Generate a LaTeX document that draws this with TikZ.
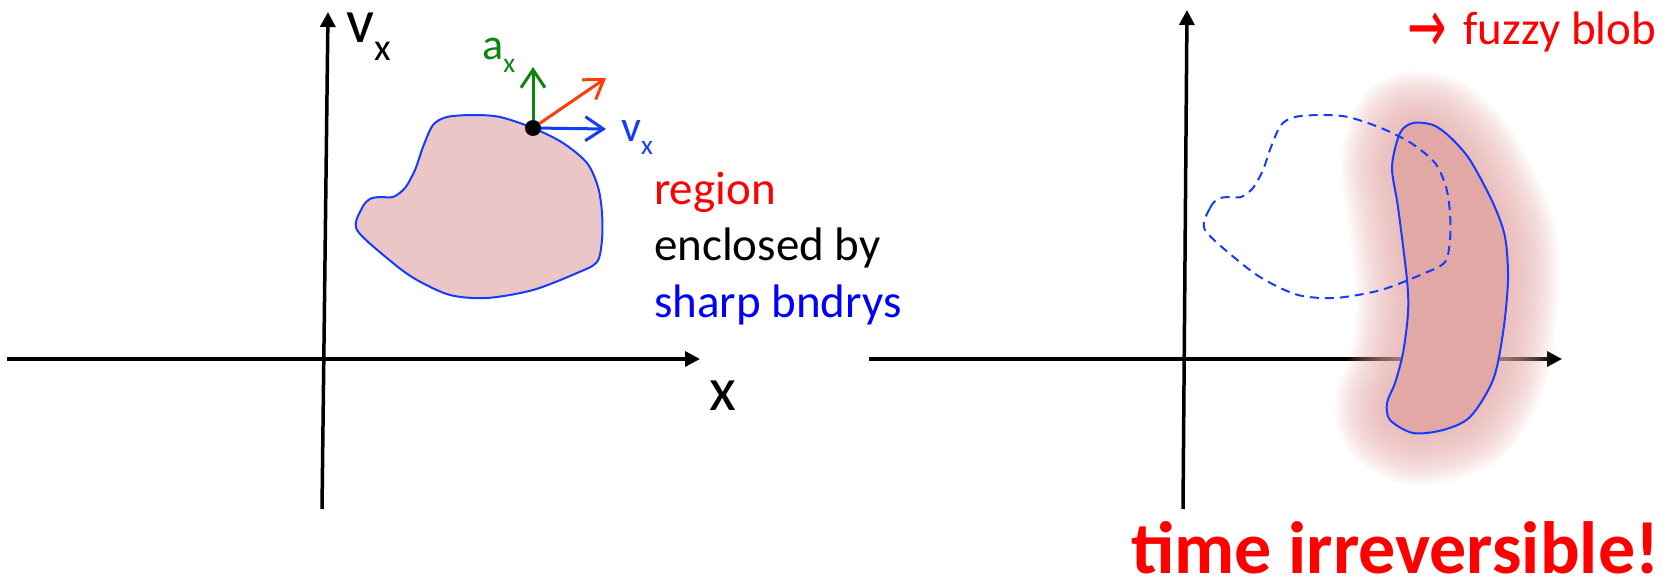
\documentclass[tikz,border=0pt]{standalone}
\usepackage{fontspec}
\setmainfont{Carlito}
\newfontfamily\arrowfont{DejaVu Sans}
\usetikzlibrary{arrows.meta,positioning}

\definecolor{blobfill}{RGB}{234,198,198}
\definecolor{fuzzcol}{RGB}{226,168,166}
\definecolor{rimblue}{RGB}{20,60,255}
\definecolor{vecred}{RGB}{255,60,10}
\definecolor{vecgreen}{RGB}{10,135,10}
\definecolor{txtred}{RGB}{255,0,0}
\definecolor{txtblue}{RGB}{0,0,255}

\newcommand{\subtxt}[1]{\raisebox{-0.28em}{\scalebox{0.62}{#1}}}
% phase-space region, left panel (reused dashed on the right)
\newcommand{\sharpblob}{plot[smooth cycle] coordinates {(357,230) (362,208) (370,199)
  (380,197) (393,197) (405,188) (415,170) (423,147) (433,125) (447,117) (473,115)
  (500,117) (533,128) (563,143) (587,163) (598,187) (602,213) (602,240) (597,262)
  (577,273) (533,290) (487,298) (450,295) (417,280) (393,263)}}
% stretched region, right panel
\newcommand{\fuzzblob}{plot[smooth cycle] coordinates {(1413,123) (1433,125) (1450,137)
  (1470,160) (1493,203) (1505,237) (1508,280) (1503,333) (1493,380) (1470,417)
  (1443,430) (1413,433) (1390,420) (1387,403) (1395,383) (1403,353) (1408,313)
  (1407,280) (1398,207) (1392,167) (1400,133)}}

\begin{document}
\begin{tikzpicture}[x=1pt, y=-1pt,
  font=\fontsize{47}{56}\selectfont,
  axis/.style={line width=3.5pt, -{Triangle[length=15pt,width=15pt]}},
  vec/.style={line width=3pt, -{Straight Barb[length=18pt,width=24pt]}},
  rim/.style={rimblue, line width=2pt},
  lbl/.style={anchor=base west, inner sep=0pt},
  axlabel/.style={lbl, font=\fontsize{62}{74}\selectfont, text height=0.5em},
  veclabel/.style={lbl, font=\fontsize{44}{52}\selectfont}
]
  \useasboundingbox (0,0) rectangle (1671,580);

  % left axes
  \coordinate (lw) at (7,359);
  \coordinate (le) at (700,359);
  \coordinate (lb) at (322,509);
  \coordinate (lt) at (328,12);
  \draw[axis] (lw) -- (le);
  \draw[axis] (lb) -- (lt);
  \node[axlabel] (vlab) at (346,43) {v\subtxt{x}};
  \node[axlabel] (xlab) at (709,410) {x};

  % right axes
  \coordinate (rw) at (869,359);
  \coordinate (re) at (1562,359);
  \coordinate (rb) at (1183,509);
  \coordinate (rt) at (1187,10);
  \draw[axis] (rw) -- (re);
  \draw[axis] (rb) -- (rt);

  % sharp region
  \filldraw[rim, fill=blobfill] \sharpblob;

  % fuzzy blob
  \foreach \w in {4,8,...,104}
    \draw[fuzzcol, line width=\w pt, draw opacity=0.05, line join=round] \fuzzblob;
  \fill[fuzzcol] \fuzzblob;
  \draw[rim, dash pattern=on 9pt off 6pt, shift={(848,0)}] \sharpblob;
  \draw[rim] \fuzzblob;

  % phase point and vectors
  \node[circle, fill=black, minimum size=16pt, inner sep=0pt] (pt) at (533,128) {};
  \coordinate (atip) at (533,67);
  \coordinate (vtip) at (606,129);
  \coordinate (rtip) at (606,78);
  \draw[vec, vecgreen] (pt) -- (atip);
  \draw[vec, rimblue] (pt) -- (vtip);
  \draw[vec, vecred] (pt) -- (rtip);
  \node[veclabel, text=vecgreen] (alab) at (482,60) {a\subtxt{x}};
  \node[veclabel, text=rimblue] (vxlab) at (621,142) {v\subtxt{x}};

  % notes
  \node[lbl, text=txtred] (reg) at (654,205) {region};
  \node[lbl] (encl) at ([yshift=-56pt]reg.base west) {enclosed by};
  \node[lbl, text=txtblue] (shp) at ([yshift=-56pt]encl.base west) {sharp bndrys};
  \node[lbl, text=txtred] (fuzzy) at (1407,45)
    {{\arrowfont\raisebox{-8pt}{\scalebox{1}[1.6]{→}}}\hspace{0.36em}fuzzy blob};
  \node[lbl, text=txtred, text depth=0pt, font=\fontsize{74}{88}\selectfont\bfseries]
    (irrev) at (1131,573) {time irreversible!};
\end{tikzpicture}
\end{document}
